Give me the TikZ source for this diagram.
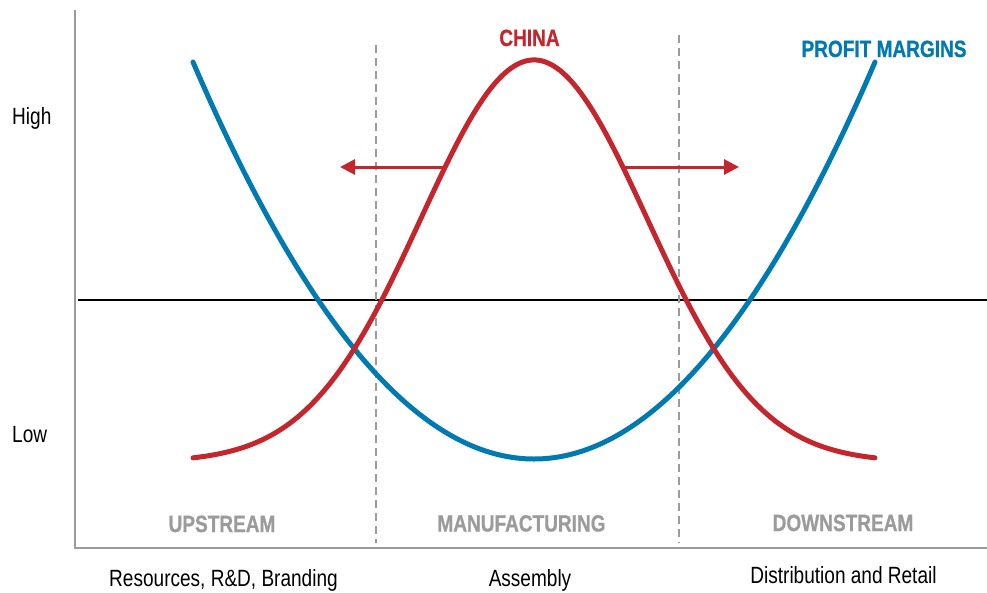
\documentclass[tikz,border=0pt]{standalone}
\usepackage{fontspec}
\setmainfont{Liberation Sans}[FakeStretch=0.81, BoldFeatures={FakeBold=0.8}]
\usetikzlibrary{arrows.meta}
\definecolor{chinared}{RGB}{196,38,46}
\definecolor{marginblue}{RGB}{0,122,176}
\definecolor{stagegray}{RGB}{155,155,155}

\begin{document}
\begin{tikzpicture}[x=1pt, y=-1pt,
    axistext/.style={font=\fontsize{23.5}{26}\selectfont, inner sep=0pt, anchor=base},
    stage/.style={axistext, font=\fontsize{23.5}{26}\selectfont\bfseries, text=stagegray},
    curve/.style={line width=5pt, line cap=round},
    divider/.style={stagegray, line width=1.8pt, dash pattern=on 8pt off 5pt},
    shift arrow/.style={chinared, line width=3pt, -{Triangle[length=15pt,width=15pt]}}]
  \useasboundingbox (0,0) rectangle (987,592);

  % axes and the middle line
  \draw [stagegray, line width=2pt] (75,10) -- (75,548) -- (987,548);
  \draw [line width=1.8pt] (78,300) -- (987,300);
  \draw [divider] (376,45) -- (376,543);
  \draw [divider] (679,35) -- (679,543);

  % the two curves
  \draw [curve, marginblue] plot[domain=193:875, samples=120, smooth]
    (\x, {459 - 34.14*((\x-534)/100)*((\x-534)/100)});
  \draw [curve, chinared] plot[domain=193:875, samples=120, smooth]
    (\x, {462 - 402*exp(-((\x-534)/100)*((\x-534)/100)/2.55)});

  \coordinate (leftfoot) at (445,167);
  \coordinate (lefttip) at (340,167);
  \coordinate (rightfoot) at (622,167);
  \coordinate (righttip) at (739,167);
  \draw [shift arrow] (leftfoot) -- (lefttip);
  \draw [shift arrow] (rightfoot) -- (righttip);

  \node (high) [axistext, anchor=base west] at (12,124) {High};
  \node (low) [axistext, anchor=base west] at (12,442) {Low};
  \node (china) [stage, text=chinared] at (529.5,46) {CHINA};
  \node (margins) [stage, text=marginblue] at (884,57) {PROFIT MARGINS};

  \node (upstream) [stage] at (222,532) {UPSTREAM};
  \node (manuf) [stage] at (521.5,531.5) {MANUFACTURING};
  \node (downstream) [stage] at (843,531) {DOWNSTREAM};

  \node (resources) [axistext] at (223.5,586) {Resources, R\&D, Branding};
  \node (assembly) [axistext] at (530,586) {Assembly};
  \node (retail) [axistext] at (843.5,583) {Distribution and Retail};
\end{tikzpicture}
\end{document}
